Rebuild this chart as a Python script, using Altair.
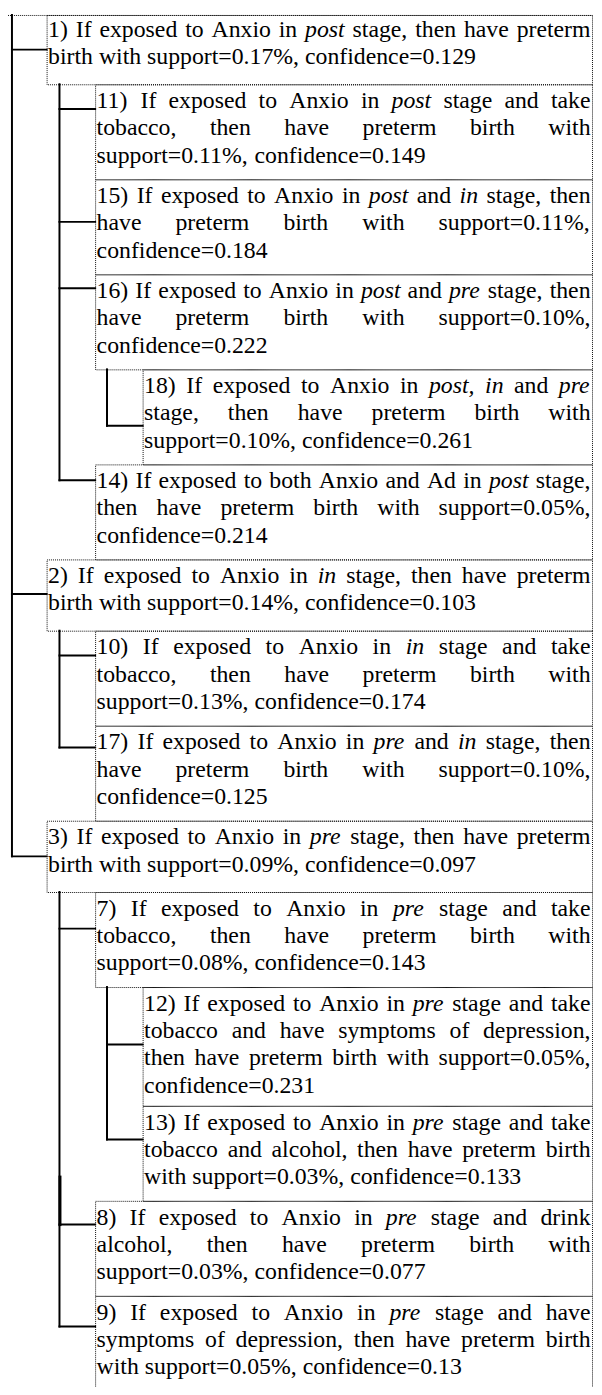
import altair as alt
import pandas as pd

# ---------------- data: the rule tree ----------------
node_ids = ["1", "11", "15", "16", "18", "14", "2", "10", "17", "3", "7", "12", "13", "8", "9"]
node_levels = [1, 2, 2, 2, 3, 2, 1, 2, 2, 1, 2, 3, 3, 2, 2]
node_parents = ["", "1", "1", "1", "16", "1", "", "2", "2", "", "3", "7", "7", "3", "3"]
node_lines = [
    ["1) If exposed to Anxio in *post* stage, then have preterm",
     "birth with support=0.17%, confidence=0.129"],
    ["11) If exposed to Anxio in *post* stage and take",
     "tobacco, then have preterm birth with",
     "support=0.11%, confidence=0.149"],
    ["15) If exposed to Anxio in *post* and *in* stage, then",
     "have preterm birth with support=0.11%,",
     "confidence=0.184"],
    ["16) If exposed to Anxio in *post* and *pre* stage, then",
     "have preterm birth with support=0.10%,",
     "confidence=0.222"],
    ["18) If exposed to Anxio in *post,* *in* and *pre*",
     "stage, then have preterm birth with",
     "support=0.10%, confidence=0.261"],
    ["14) If exposed to both Anxio and Ad in *post* stage,",
     "then have preterm birth with support=0.05%,",
     "confidence=0.214"],
    ["2) If exposed to Anxio in *in* stage, then have preterm",
     "birth with support=0.14%, confidence=0.103"],
    ["10) If exposed to Anxio in *in* stage and take",
     "tobacco, then have preterm birth with",
     "support=0.13%, confidence=0.174"],
    ["17) If exposed to Anxio in *pre* and *in* stage, then",
     "have preterm birth with support=0.10%,",
     "confidence=0.125"],
    ["3) If exposed to Anxio in *pre* stage, then have preterm",
     "birth with support=0.09%, confidence=0.097"],
    ["7) If exposed to Anxio in *pre* stage and take",
     "tobacco, then have preterm birth with",
     "support=0.08%, confidence=0.143"],
    ["12) If exposed to Anxio in *pre* stage and take",
     "tobacco and have symptoms of depression,",
     "then have preterm birth with support=0.05%,",
     "confidence=0.231"],
    ["13) If exposed to Anxio in *pre* stage and take",
     "tobacco and alcohol, then have preterm birth",
     "with support=0.03%, confidence=0.133"],
    ["8) If exposed to Anxio in *pre* stage and drink",
     "alcohol, then have preterm birth with",
     "support=0.03%, confidence=0.077"],
    ["9) If exposed to Anxio in *pre* stage and have",
     "symptoms of depression, then have preterm birth",
     "with support=0.05%, confidence=0.13"],
]

# ---------------- layout (page pixels) ----------------
elbow_y = [43, 103, 217, 284, 423, 478, 593, 655, 748, 858, 931, 1048, 1144, 1230, 1333]
TOP = 6
ROW = 24          # box height = ROW * (lines + 1)
LINE_H = 27.6
BASE_OFF = 24
BOX_LEFT = {1: 47, 2: 96, 3: 144}
TRUNK_X = {1: 12, 2: 60, 3: 108}
RIGHT = 598
TEXT_RIGHT = 596.5
VIEW_X0, VIEW_X1 = 8, 600
VIEW_Y0, VIEW_Y1 = 8, 1387
FONT = "Liberation Serif, Times New Roman, serif"
SIZE = 24

# Times metrics (1/1000 em)
ROMAN = dict(zip("abcdefghijklmnopqrstuvwxyz",
                 [444, 500, 444, 500, 444, 333, 500, 500, 278, 278, 500, 278, 778,
                  500, 500, 500, 500, 333, 389, 278, 500, 500, 722, 500, 500, 444]))
ROMAN.update(dict(zip("ABCDEFGHIJKLMNOPQRSTUVWXYZ",
                      [722, 667, 667, 722, 611, 556, 722, 722, 333, 389, 722, 611, 889,
                       722, 722, 556, 722, 667, 556, 611, 722, 722, 944, 722, 722, 611])))
ROMAN.update({c: 500 for c in "0123456789"})
ROMAN.update({" ": 250, ",": 250, ".": 250, "%": 833, "=": 564, "(": 333, ")": 333})
ITALIC = dict(zip("abcdefghijklmnopqrstuvwxyz",
                  [500, 500, 444, 500, 444, 278, 500, 500, 278, 278, 444, 278, 722,
                   500, 500, 500, 500, 389, 389, 278, 500, 444, 667, 444, 444, 389]))
ITALIC.update({",": 250, ".": 250, " ": 250})


def word_width(w, italic):
    table = ITALIC if italic else ROMAN
    return sum(table.get(c, 500) for c in w) * SIZE / 1000.0


boxes, words, rules = [], [], []
top = TOP
box_geom = {}
for nid, lvl, lines in zip(node_ids, node_levels, node_lines):
    bottom = top + ROW * (len(lines) + 1)
    box_geom[nid] = (top, bottom)
    left = BOX_LEFT[lvl]
    boxes.append({"x": left + 0.5, "x2": RIGHT + 0.5,
                  "y": max(top, VIEW_Y0) + 0.5, "y2": bottom + 0.5})
    x0 = left + 1.5
    for i, line in enumerate(lines):
        toks = [(t.strip("*"), t.startswith("*")) for t in line.split(" ")]
        ws = [word_width(t, it) for t, it in toks]
        last = i == len(lines) - 1
        if not last and len(toks) > 1:
            gap = (TEXT_RIGHT - x0 - sum(ws)) / (len(toks) - 1)
        else:
            gap = 250 * SIZE / 1000.0
        x = x0
        by = top + BASE_OFF + i * LINE_H
        for (t, it), wd in zip(toks, ws):
            words.append({"x": x, "y": by, "t": t, "italic": it})
            x += wd + gap
    top = bottom

# connectors
for nid, lvl, par, ey in zip(node_ids, node_levels, node_parents, elbow_y):
    rules.append({"x": TRUNK_X[lvl], "x2": BOX_LEFT[lvl], "y": ey, "y2": ey, "w": 2})
# trunks
parents = ["", "1", "16", "2", "3", "7"]
for p in parents:
    kids = [(lvl, ey) for par, lvl, ey in zip(node_parents, node_levels, elbow_y) if par == p]
    lvl = kids[0][0]
    start = VIEW_Y0 if p == "" else box_geom[p][1]
    rules.append({"x": TRUNK_X[lvl], "x2": TRUNK_X[lvl], "y": start,
                  "y2": max(e for _, e in kids), "w": 2})
# heavier stretch of the trunk under node 3, just above the elbow to node 8
rules.append({"x": TRUNK_X[2] + 0.5, "x2": TRUNK_X[2] + 0.5,
              "y": box_geom["13"][1] - 24, "y2": elbow_y[node_ids.index("8")], "w": 3})

dots = pd.DataFrame([{"x": VIEW_X0, "x2": RIGHT + 0.5, "y": VIEW_Y0 + 0.5, "y2": VIEW_Y0 + 0.5}])

xs = alt.Scale(domain=[VIEW_X0, VIEW_X1], nice=False, zero=False)
ys = alt.Scale(domain=[VIEW_Y0, VIEW_Y1], nice=False, zero=False, reverse=True)

box_layer = alt.Chart(pd.DataFrame(boxes)).mark_rect(
    filled=False, stroke="#111111", strokeWidth=1, strokeDash=[1, 1]
).encode(
    x=alt.X("x:Q", scale=xs, axis=None), x2="x2:Q",
    y=alt.Y("y:Q", scale=ys, axis=None), y2="y2:Q",
)

top_line = alt.Chart(dots).mark_rule(
    stroke="#111111", strokeWidth=1, strokeDash=[1, 1]
).encode(
    x=alt.X("x:Q", scale=xs, axis=None), x2="x2:Q",
    y=alt.Y("y:Q", scale=ys, axis=None), y2="y2:Q",
)

rule_layer = alt.Chart(pd.DataFrame(rules)).mark_rule(
    color="black", strokeCap="square"
).encode(
    x=alt.X("x:Q", scale=xs, axis=None), x2="x2:Q",
    y=alt.Y("y:Q", scale=ys, axis=None), y2="y2:Q",
    strokeWidth=alt.StrokeWidth("w:Q", scale=None),
)

wdf = pd.DataFrame(words)
text_roman = alt.Chart(wdf[~wdf["italic"]]).mark_text(
    align="left", baseline="alphabetic", font=FONT, fontSize=SIZE, color="black"
).encode(
    x=alt.X("x:Q", scale=xs, axis=None),
    y=alt.Y("y:Q", scale=ys, axis=None),
    text="t:N",
)
text_italic = alt.Chart(wdf[wdf["italic"]]).mark_text(
    align="left", baseline="alphabetic", font=FONT, fontSize=SIZE, color="black",
    fontStyle="italic"
).encode(
    x=alt.X("x:Q", scale=xs, axis=None),
    y=alt.Y("y:Q", scale=ys, axis=None),
    text="t:N",
)

chart = alt.layer(box_layer, top_line, rule_layer, text_roman, text_italic).properties(
    width=VIEW_X1 - VIEW_X0, height=VIEW_Y1 - VIEW_Y0,
    autosize=alt.AutoSizeParams(type="none"), padding=0,
).configure_view(strokeWidth=0)

chart.save("out.html", embed_options={"renderer": "svg", "actions": False})
